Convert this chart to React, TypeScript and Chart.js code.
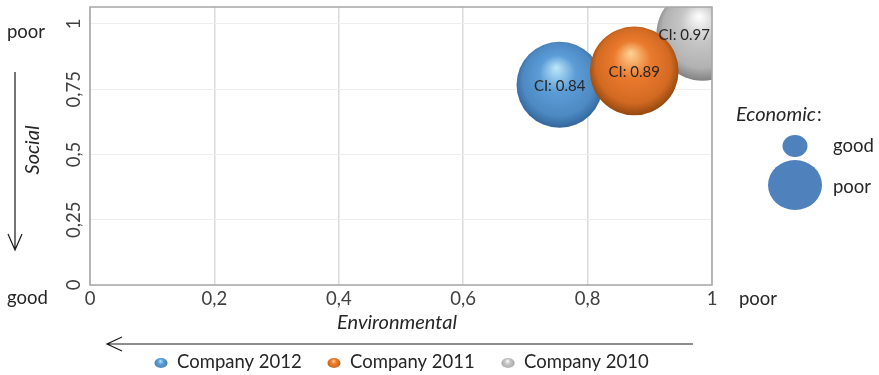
import { useEffect, useRef } from "react";
import { Chart, registerables } from "chart.js";

Chart.register(...registerables);

// Sustainability position of each company year
const companies = ["Company 2012", "Company 2011", "Company 2010"];
const environmental = [0.755, 0.875, 0.985];
const social = [0.767, 0.82, 0.96];
const ciValues = [0.84, 0.89, 0.97];

// Axis ticks (decimal comma labels)
const xTicks = [0, 0.2, 0.4, 0.6, 0.8, 1];
const xTickLabels = ["0", "0,2", "0,4", "0,6", "0,8", "1"];
const yTicks = [0, 0.25, 0.5, 0.75, 1];
const yTickLabels = ["0", "0,25", "0,5", "0,75", "1"];

const W = 879;
const H = 375;
const FONT = "Lato, 'Liberation Sans', sans-serif";
const INK = "#262626";
const TEXT_SIZE = 18.5;
const TITLE_SIZE = 20;
const BUBBLE_SCALE = 47; // radius in px for CI = 1 (area proportional to CI)

const shades = [
  { light: "#bde8fa", base: "#5c9dd7", mid: "#4d89c3", dark: "#33679c" },
  { light: "#ffd294", base: "#ea7a2d", mid: "#d36a22", dark: "#94480f" },
  { light: "#ffffff", base: "#c6c6c6", mid: "#b2b2b2", dark: "#828282" },
];

type Shade = { light: string; base: string; mid: string; dark: string };

function sphereGradient(
  ctx: CanvasRenderingContext2D,
  cx: number,
  cy: number,
  rx: number,
  ry: number,
  s: Shade
) {
  const r = Math.max(rx, ry);
  const g = ctx.createRadialGradient(cx - 0.08 * rx, cy - 0.4 * ry, 0, cx, cy - 0.05 * ry, r * 1.05);
  g.addColorStop(0, s.light);
  g.addColorStop(0.4, s.base);
  g.addColorStop(0.8, s.mid);
  g.addColorStop(1, s.dark);
  return g;
}

const sphereFill = (i: number) => (c: any) => {
  const s = shades[i];
  if (c.type !== "data") return s.base;
  const chart = c.chart;
  const xs = chart.scales?.x;
  const ys = chart.scales?.y;
  if (!xs || !ys || !c.raw) return s.base;
  const cx = xs.getPixelForValue(c.raw.x);
  const cy = ys.getPixelForValue(c.raw.y);
  const r = c.raw.r;
  if (![cx, cy, r].every((v) => Number.isFinite(v)) || r <= 0) return s.base;
  return sphereGradient(chart.ctx, cx, cy, r, r, s);
};

const decorPlugin = {
  id: "decor",
  afterDatasetsDraw(chart: any) {
    const { ctx, chartArea } = chart;
    const xs = chart.scales.x;
    const ys = chart.scales.y;
    ctx.save();
    ctx.font = `15px ${FONT}`;
    ctx.fillStyle = INK;
    ctx.textAlign = "center";
    ctx.textBaseline = "middle";
    companies.forEach((_, i) => {
      const label = `CI: ${ciValues[i].toFixed(2)}`;
      const w = ctx.measureText(label).width;
      let px = xs.getPixelForValue(environmental[i]);
      const py = ys.getPixelForValue(social[i]);
      px = Math.min(px, chartArea.right - w / 2 - 2);
      ctx.fillText(label, px, py + 1);
    });
    ctx.restore();
  },
  afterDraw(chart: any) {
    const { ctx, chartArea } = chart;
    const ys = chart.scales.y;
    ctx.save();

    // plot frame
    ctx.strokeStyle = "#a6a6a6";
    ctx.lineWidth = 1.5;
    ctx.strokeRect(
      chartArea.left,
      chartArea.top,
      chartArea.right - chartArea.left,
      chartArea.bottom - chartArea.top
    );

    ctx.fillStyle = "#404040";
    ctx.textAlign = "center";
    ctx.textBaseline = "middle";
    ctx.font = `${TEXT_SIZE}px ${FONT}`;
    // rotated y tick labels
    yTicks.forEach((v, i) => {
      const py = ys.getPixelForValue(v);
      ctx.save();
      ctx.translate(74, py);
      ctx.rotate(-Math.PI / 2);
      ctx.fillText(yTickLabels[i], 0, 0);
      ctx.restore();
    });

    ctx.fillStyle = INK;
    // axis titles
    ctx.font = `italic ${TITLE_SIZE}px ${FONT}`;
    ctx.save();
    ctx.translate(33, 150);
    ctx.rotate(-Math.PI / 2);
    ctx.fillText("Social", 0, 0);
    ctx.restore();
    ctx.fillText("Environmental", 397, 323);

    // direction arrows
    ctx.strokeStyle = "#1a1a1a";
    ctx.lineWidth = 1.2;
    ctx.beginPath();
    ctx.moveTo(15, 72);
    ctx.lineTo(15, 250);
    ctx.moveTo(8, 234);
    ctx.lineTo(15, 250);
    ctx.lineTo(22, 234);
    ctx.moveTo(107, 344);
    ctx.lineTo(693, 344);
    ctx.moveTo(122, 337);
    ctx.lineTo(107, 344);
    ctx.lineTo(122, 351);
    ctx.stroke();

    // scale end words
    ctx.font = `${TEXT_SIZE}px ${FONT}`;
    ctx.textAlign = "left";
    ctx.fillText("poor", 7, 32);
    ctx.fillText("good", 7, 298);
    ctx.fillText("poor", 739, 299);

    // economic size key
    ctx.font = `italic ${TITLE_SIZE}px ${FONT}`;
    ctx.fillText("Economic", 736, 115);
    const ew = ctx.measureText("Economic").width;
    ctx.font = `${TEXT_SIZE}px ${FONT}`;
    ctx.fillText(":", 736 + ew + 1, 115);
    ctx.fillStyle = "#4f81bd";
    ctx.beginPath();
    ctx.ellipse(795, 146, 12.5, 11, 0, 0, Math.PI * 2);
    ctx.fill();
    ctx.beginPath();
    ctx.ellipse(795, 185, 27, 25, 0, 0, Math.PI * 2);
    ctx.fill();
    ctx.fillStyle = INK;
    ctx.fillText("good", 833, 146);
    ctx.fillText("poor", 833, 187);

    // series legend
    const iconX = [161, 334, 508];
    companies.forEach((name, i) => {
      const cx = iconX[i];
      const cy = 363;
      ctx.fillStyle = sphereGradient(ctx, cx, cy, 6.5, 5, shades[i]);
      ctx.beginPath();
      ctx.ellipse(cx, cy, 6.5, 5, 0, 0, Math.PI * 2);
      ctx.fill();
      ctx.fillStyle = INK;
      ctx.fillText(name, cx + 16, 362);
    });

    ctx.restore();
  },
};

export default function App() {
  const ref = useRef<HTMLCanvasElement | null>(null);

  useEffect(() => {
    if (!ref.current) return;
    const chart = new Chart(ref.current, {
      type: "bubble",
      data: {
        datasets: companies.map((name, i) => ({
          label: name,
          data: [
            {
              x: environmental[i],
              y: social[i],
              r: BUBBLE_SCALE * Math.sqrt(ciValues[i]),
            },
          ],
          backgroundColor: sphereFill(i),
          borderWidth: 0,
          order: i === 1 ? 0 : i === 0 ? 1 : 2,
        })),
      },
      options: {
        responsive: false,
        animation: false,
        events: [],
        layout: {
          autoPadding: false,
          padding: { top: 7, right: 167, left: 0, bottom: 0 },
        },
        plugins: {
          legend: { display: false },
          tooltip: { enabled: false },
        },
        scales: {
          x: {
            type: "linear",
            min: 0,
            max: 1,
            afterBuildTicks: (s: any) => {
              s.ticks = xTicks.map((v) => ({ value: v }));
            },
            afterFit: (s: any) => {
              s.height = 90;
            },
            ticks: {
              callback: (_v: any, i: number) => xTickLabels[i],
              font: { family: FONT, size: TEXT_SIZE },
              color: "#404040",
              padding: 3,
              maxRotation: 0,
            },
            grid: { color: "#d9d9d9", lineWidth: 1.5, drawTicks: false },
            border: { display: false },
          },
          y: {
            type: "linear",
            min: 0,
            max: 1.065,
            afterBuildTicks: (s: any) => {
              s.ticks = yTicks.map((v) => ({ value: v }));
            },
            afterFit: (s: any) => {
              s.width = 90;
            },
            ticks: { display: false },
            grid: { color: "#eeeeee", lineWidth: 1, drawTicks: false },
            border: { display: false },
          },
        },
      },
      plugins: [decorPlugin],
    });
    return () => chart.destroy();
  }, []);

  return (
    <div style={{ position: "absolute", left: 0, top: 0, width: W, height: H, background: "#fff" }}>
      <canvas ref={ref} width={W} height={H} style={{ width: W, height: H, display: "block" }} />
    </div>
  );
}
